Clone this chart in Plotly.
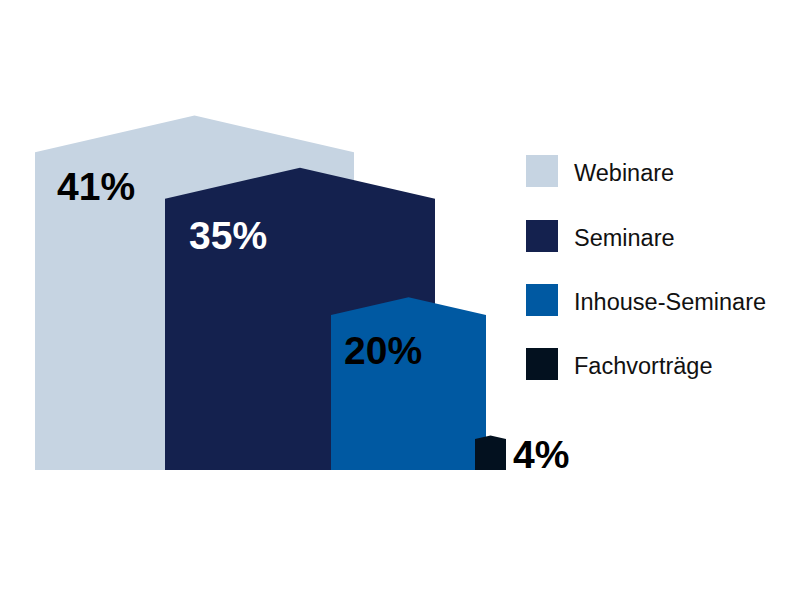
import plotly.graph_objects as go

# ---- data ----
categories = ["Webinare", "Seminare", "Inhouse-Seminare", "Fachvorträge"]
values = [41, 35, 20, 4]
value_labels = ["41%", "35%", "20%", "4%"]

# ---- layout / style constants ----
colors = ["#C6D4E2", "#14214E", "#0059A2", "#03111F"]
label_colors = ["#000000", "#FFFFFF", "#000000", "#000000"]
OFF = 8                              # page body margin in the browser
bar_left = [35, 165, 331, 475]       # x axis units == page pixels
bar_right = [354, 435, 486, 506]
PX_PER_UNIT = 7.75                   # vertical pixels per percent
ROOF_RATIO = 0.115                   # roof height relative to bar width
BASE = 470                           # page y of the baseline
PLOT_H = BASE - OFF
label_x = [96, 228, 383, 541]
label_dy = [-4.4, -4.8, -4.6, None]

FONT = "Liberation Sans, Arial, sans-serif"

fig = go.Figure()
for cat, v, col, xl, xr in zip(categories, values, colors, bar_left, bar_right):
    roof = ROOF_RATIO * (xr - xl) / PX_PER_UNIT
    xm = (xl + xr) / 2
    fig.add_trace(go.Scatter(
        x=[xl, xl, xm, xr, xr, xl],
        y=[0, v, v + roof, v, 0, 0],
        fill="toself", fillcolor=col, mode="lines",
        line=dict(width=0, color=col), name=cat,
        hoverinfo="skip", showlegend=False,
    ))

for i, (v, lab) in enumerate(zip(values, value_labels)):
    y = v + label_dy[i] if label_dy[i] is not None else v / 2
    fig.add_annotation(
        x=label_x[i], y=y, text=f"<b>{lab}</b>", showarrow=False,
        xref="x", yref="y", xanchor="center", yanchor="middle",
        font=dict(family=FONT, size=39, color=label_colors[i]),
    )

# custom legend (paper coords)
def px_x(px):
    return (px - OFF) / 800

def px_y(py):
    return (BASE - py) / PLOT_H

leg_top = [155, 220, 284, 348]
for cat, col, t in zip(categories, colors, leg_top):
    fig.add_shape(type="rect", xref="paper", yref="paper",
                  x0=px_x(526), x1=px_x(558), y0=px_y(t + 32), y1=px_y(t),
                  fillcolor=col, line=dict(width=0))
    fig.add_annotation(x=px_x(572), y=px_y(t + 18),
                       xref="paper", yref="paper", text=cat, showarrow=False,
                       xanchor="left", yanchor="middle",
                       font=dict(family=FONT, size=23.5, color="#111111"))

fig.update_layout(
    width=800, height=600,
    margin=dict(l=0, r=0, t=0, b=600 - PLOT_H, pad=0),
    paper_bgcolor="white", plot_bgcolor="white",
    xaxis=dict(range=[OFF, 800 + OFF], visible=False, fixedrange=True),
    yaxis=dict(range=[0, PLOT_H / PX_PER_UNIT], visible=False, fixedrange=True),
    showlegend=False,
)

fig.write_html("out.html", config={"displayModeBar": False})
